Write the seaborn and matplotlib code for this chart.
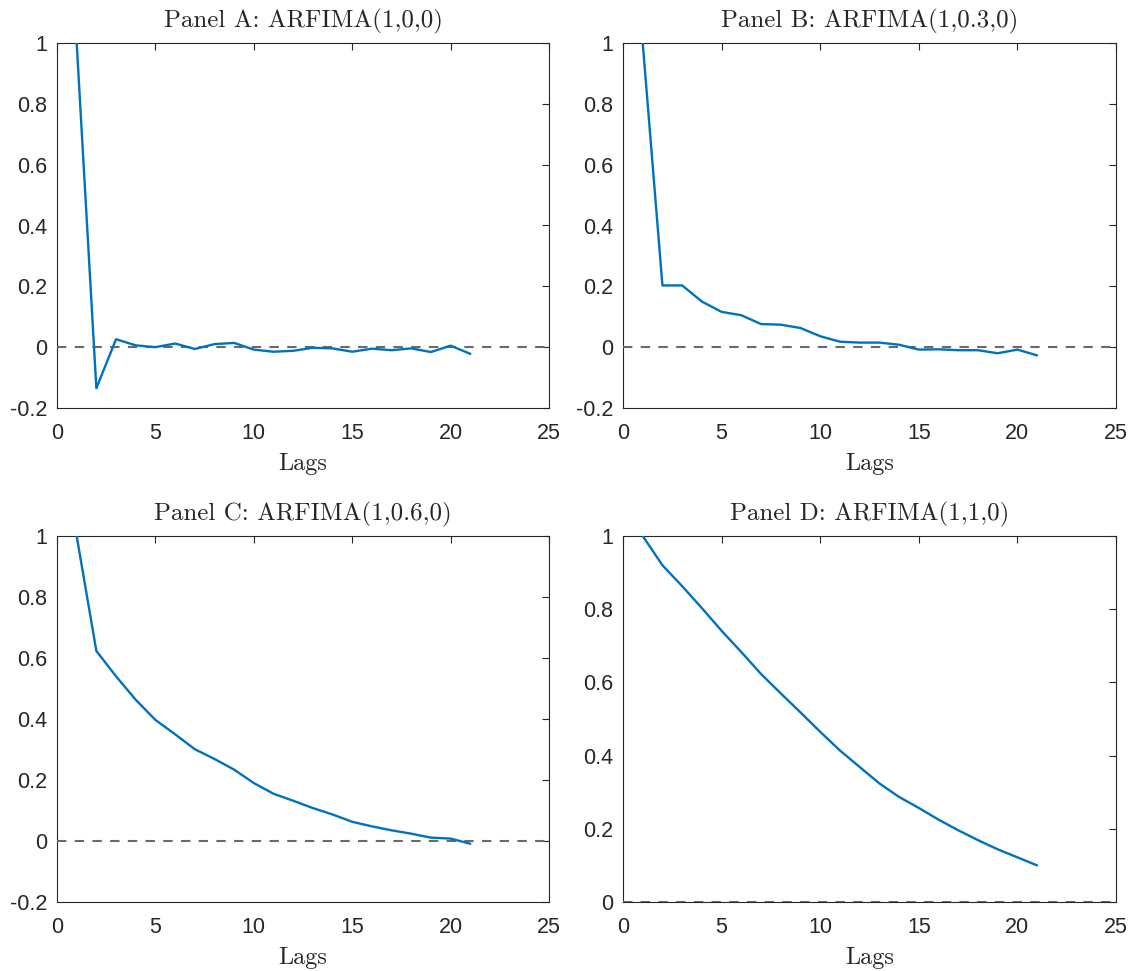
import numpy as np
import pandas as pd
import matplotlib
matplotlib.use("Agg")
import matplotlib.pyplot as plt
import matplotlib.ticker as mticker
import seaborn as sns

# autocorrelations, lags 1..21
lags = list(range(1, 22))
acf_a = [1.0, -0.135, 0.026, 0.006, 0.0, 0.012, -0.006, 0.010, 0.014, -0.008, -0.015,
         -0.012, -0.002, -0.004, -0.015, -0.005, -0.010, -0.004, -0.016, 0.005, -0.022]
acf_b = [1.0, 0.203, 0.203, 0.150, 0.116, 0.105, 0.076, 0.074, 0.063, 0.036, 0.018,
         0.015, 0.015, 0.008, -0.008, -0.007, -0.010, -0.010, -0.020, -0.008, -0.027]
acf_c = [1.0, 0.623, 0.540, 0.463, 0.397, 0.350, 0.301, 0.269, 0.234, 0.190, 0.155,
         0.132, 0.108, 0.087, 0.063, 0.048, 0.035, 0.024, 0.011, 0.008, -0.009]
acf_d = [1.0, 0.920, 0.863, 0.803, 0.741, 0.683, 0.623, 0.570, 0.518, 0.465, 0.414,
         0.369, 0.324, 0.287, 0.257, 0.225, 0.196, 0.169, 0.144, 0.122, 0.100]

titles = ["Panel A: ARFIMA(1,0,0)", "Panel B: ARFIMA(1,0.3,0)",
          "Panel C: ARFIMA(1,0.6,0)", "Panel D: ARFIMA(1,1,0)"]
series = [acf_a, acf_b, acf_c, acf_d]
ylims = [(-0.2, 1), (-0.2, 1), (-0.2, 1), (0, 1)]

sns.set_style("white")
plt.rcParams['font.family'] = ['Liberation Sans', 'DejaVu Sans']
plt.rcParams['axes.unicode_minus'] = False

fig = plt.figure(figsize=(11.36, 9.71), dpi=100)
W, H = 1136, 971
# axes boxes in pixels: left, top, right, bottom
boxes = [(57, 43, 549, 408), (623, 43, 1116, 408),
         (57, 536, 549, 902), (623, 536, 1116, 902)]

for (l, t, r, b), title, vals, yl in zip(boxes, titles, series, ylims):
    ax = fig.add_axes([l / W, 1 - b / H, (r - l) / W, (b - t) / H])
    df = pd.DataFrame({"lag": lags, "acf": vals})
    ax.axhline(0, color="#6a6a6a", linestyle=(0, (4.5, 4)), linewidth=1.5, zorder=2.6)
    sns.lineplot(data=df, x="lag", y="acf", ax=ax, color="#0072BD", linewidth=1.7, zorder=2.7)
    ax.set_xlim(0, 25)
    ax.set_ylim(*yl)
    ax.set_xticks(range(0, 26, 5))
    ax.set_yticks(np.round(np.arange(yl[0], 1.0001, 0.2), 1))
    ax.yaxis.set_major_formatter(mticker.FuncFormatter(lambda v, p: f"{v:g}"))
    ax.tick_params(direction="in", length=5, width=0.8, top=True, right=True,
                   labelsize=15.5, colors="#262626")
    ax.tick_params(axis="x", pad=11)
    ax.tick_params(axis="y", pad=7)
    for s in ax.spines.values():
        s.set_color("#262626")
        s.set_linewidth(0.8)
    ax.set_title(title, fontfamily="cmr10", fontsize=18, pad=11)
    ax.set_xlabel("Lags", fontfamily="cmr10", fontsize=17.5, labelpad=6)
    ax.set_ylabel("")

fig.savefig("out.png", dpi=100)
